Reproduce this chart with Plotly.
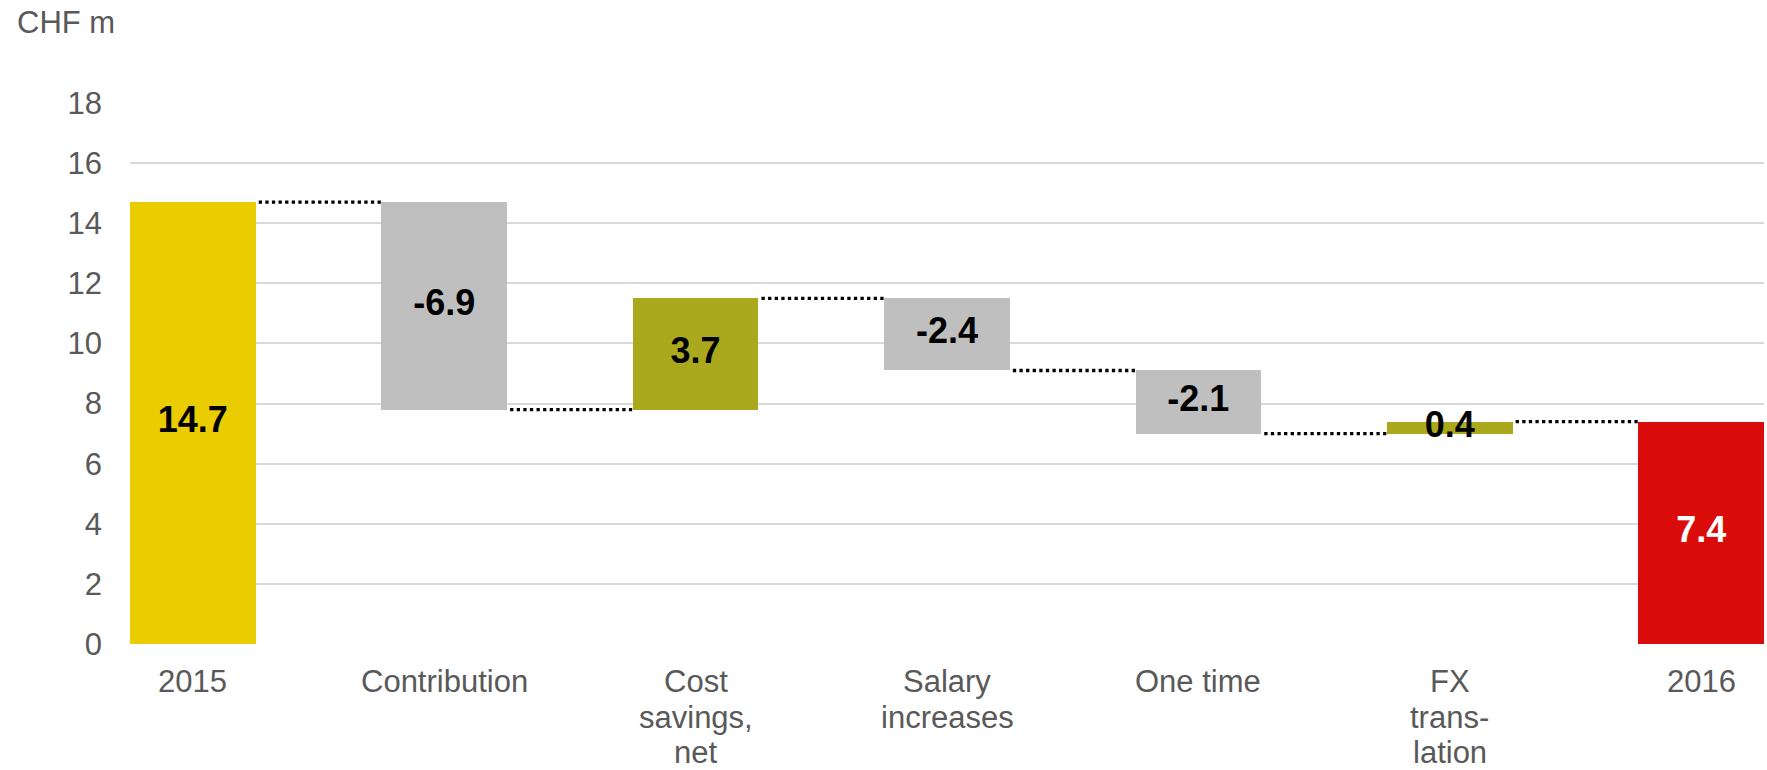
import plotly.graph_objects as go

categories = ["2015", "Contribution", "Cost<br>savings,<br>net", "Salary<br>increases",
              "One time", "FX<br>trans-<br>lation", "2016"]
values = [14.7, -6.9, 3.7, -2.4, -2.1, 0.4, 7.4]
measures = ["absolute", "relative", "relative", "relative", "relative", "relative", "total"]
value_labels = ["14.7", "-6.9", "3.7", "-2.4", "-2.1", "0.4", "7.4"]
bar_colors = ["#EACD00", "#BFBFBF", "#AAA91E", "#BFBFBF", "#BFBFBF", "#AAA91E", "#DA0B0B"]
label_colors = ["black", "black", "black", "black", "black", "black", "white"]
y_ticks = [0, 2, 4, 6, 8, 10, 12, 14, 16, 18]

xs = list(range(len(categories)))
bases, heights, ends = [], [], []
running = 0.0
for v, m in zip(values, measures):
    if m == "relative":
        bases.append(running)
        heights.append(v)
        running = running + v
    else:
        bases.append(0)
        heights.append(v)
        running = v
    ends.append(running)

BW = 0.5
FONT = "Liberation Sans, Arial, sans-serif"
GREY_TEXT = "#595959"

fig = go.Figure()
fig.add_trace(go.Bar(
    x=xs, y=heights, base=bases, width=BW,
    marker=dict(color=bar_colors, line=dict(width=0)),
    hoverinfo="skip", showlegend=False,
))

cx, cy = [], []
for i in range(len(xs) - 1):
    cx += [xs[i] + BW / 2 + 0.012, xs[i + 1] - BW / 2, None]
    cy += [ends[i], ends[i], None]
fig.add_trace(go.Scatter(
    x=cx, y=cy, mode="lines",
    line=dict(color="black", width=3.3, dash="dot"),
    hoverinfo="skip", showlegend=False,
))

fig.add_trace(go.Scatter(
    x=xs, y=[b + h / 2 for b, h in zip(bases, heights)],
    mode="text", text=value_labels,
    textfont=dict(family=FONT, size=36, color=label_colors, weight="bold"),
    textposition="middle center", cliponaxis=False,
    hoverinfo="skip", showlegend=False,
))

annotations = [dict(
    text="CHF m", xref="paper", yref="paper",
    x=-115 / 1634, y=1 + 100 / 541, xanchor="left", yanchor="top",
    showarrow=False, font=dict(family=FONT, size=31, color=GREY_TEXT),
)]
# category labels, one annotation per text line (tighter line spacing than Plotly's default)
for i, cat in enumerate(categories):
    for j, line in enumerate(cat.split("<br>")):
        annotations.append(dict(
            text=line, x=xs[i], xref="x", y=0, yref="paper",
            xanchor="center", yanchor="middle", yshift=-(37.5 + j * 35.5),
            showarrow=False, font=dict(family=FONT, size=31, color=GREY_TEXT),
        ))

fig.update_layout(
    width=1767, height=770,
    margin=dict(l=130, r=3, t=103, b=126, autoexpand=False),
    plot_bgcolor="white", paper_bgcolor="white",
    font=dict(family=FONT, size=31, color=GREY_TEXT),
    bargap=0,
    xaxis=dict(
        range=[-0.25, 6.25], tickmode="array", tickvals=xs,
        showticklabels=False,
        showgrid=False, zeroline=False, showline=False, ticks="", automargin=False,
    ),
    yaxis=dict(
        range=[0, 18], tickmode="array", tickvals=y_ticks, automargin=False,
        showgrid=True, gridcolor="#D9D9D9", gridwidth=1.6,
        zeroline=False, showline=False, ticks="",
        tickfont=dict(size=31, color=GREY_TEXT), ticklabelstandoff=27,
    ),
    annotations=annotations,
)

fig.write_html("out.html")
